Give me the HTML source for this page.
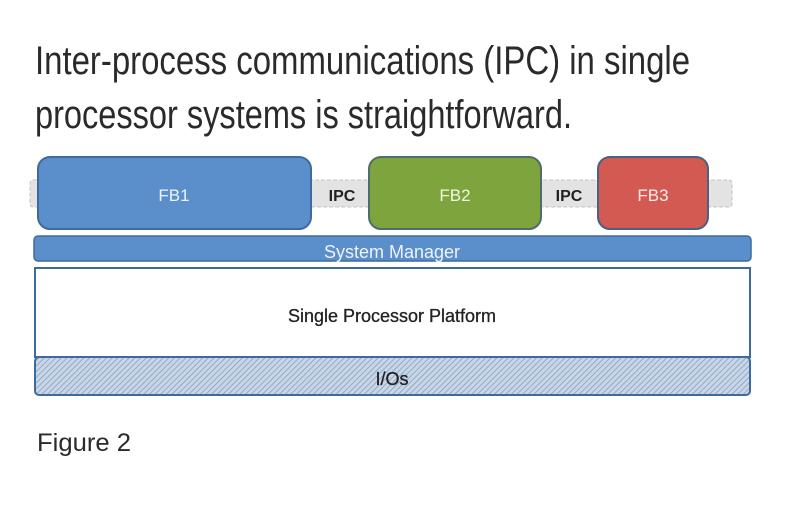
<!DOCTYPE html>
<html><head><meta charset="utf-8"><style>body{margin:0;background:#fff}svg{display:block}</style></head>
<body>
<svg width="800" height="506" viewBox="0 0 800 506" xmlns="http://www.w3.org/2000/svg">
<defs>
<pattern id="h" width="4" height="4" patternUnits="userSpaceOnUse" patternTransform="rotate(45)">
<rect width="4" height="4" fill="#c9d6e6"/><line x1="0" y1="0" x2="0" y2="4" stroke="#7f9cc2" stroke-width="1.5"/>
</pattern>
</defs>
<rect width="800" height="506" fill="#fff"/>
<g font-family="Liberation Sans Narrow, Liberation Sans, sans-serif" fill="#2a2a2a">
<text x="35" y="74" font-size="40" textLength="655" lengthAdjust="spacingAndGlyphs">Inter-process communications (IPC) in single</text>
<text x="35" y="128" font-size="40" textLength="537" lengthAdjust="spacingAndGlyphs">processor systems is straightforward.</text>
<text x="37" y="451" font-size="25" textLength="94" lengthAdjust="spacingAndGlyphs">Figure 2</text>
</g>
<rect x="30" y="180" width="702" height="27" rx="3" fill="#e3e3e3" stroke="#c6c6c6" stroke-dasharray="4 2"/>
<rect x="38" y="157" width="273" height="72" rx="12" fill="#5b8fcc" stroke="#3f6a9c" stroke-width="2"/>
<rect x="369" y="157" width="172" height="72" rx="12" fill="#7da43d" stroke="#4e6e6e" stroke-width="2"/>
<rect x="598" y="157" width="110" height="72" rx="12" fill="#d25a52" stroke="#4a6180" stroke-width="2"/>
<g font-family="Liberation Sans, sans-serif" font-size="17" text-anchor="middle">
<text x="174" y="201" fill="#eef3fa">FB1</text>
<text x="455" y="201" fill="#f4f6e8">FB2</text>
<text x="653" y="201" fill="#fbeceb">FB3</text>
<text x="342" y="201" fill="#222" font-weight="bold" font-size="16">IPC</text>
<text x="569" y="201" fill="#222" font-weight="bold" font-size="16">IPC</text>
</g>
<rect x="34" y="236" width="717" height="25" rx="4" fill="#5b8fcc" stroke="#3f6a9c" stroke-width="1.5"/>
<text x="392" y="258" font-family="Liberation Sans, sans-serif" font-size="18" fill="#eef3fa" text-anchor="middle">System Manager</text>
<rect x="35" y="268" width="715" height="89" fill="#fff" stroke="#3f6a9c" stroke-width="2"/>
<text x="392" y="322" font-family="Liberation Sans, sans-serif" font-size="18" fill="#222" text-anchor="middle" stroke="#222" stroke-width="0.3">Single Processor Platform</text>
<rect x="35" y="357" width="715" height="38" rx="4" fill="url(#h)" stroke="#3f6a9c" stroke-width="2"/>
<text x="392" y="385" font-family="Liberation Sans, sans-serif" font-size="18" fill="#222" text-anchor="middle" stroke="#222" stroke-width="0.3">I/Os</text>
</svg>
</body></html>
